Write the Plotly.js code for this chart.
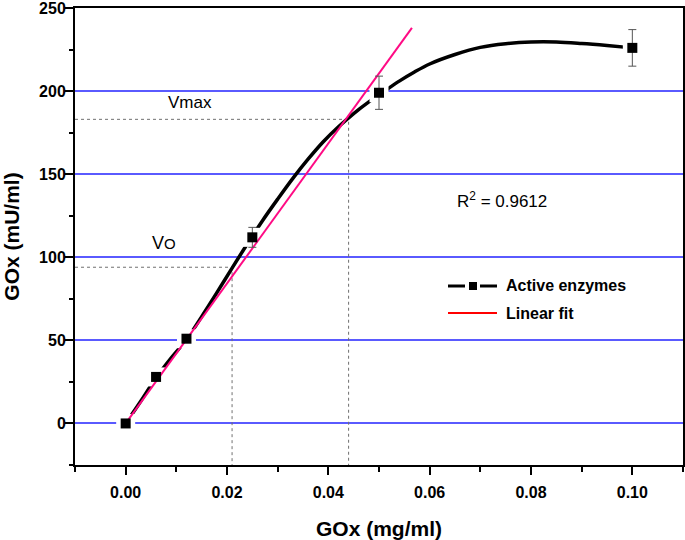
<!DOCTYPE html>
<html><head><meta charset="utf-8">
<script src="https://cdn.plot.ly/plotly-3.0.1.min.js"></script>
<style>html,body{margin:0;padding:0;background:#fff}#chart{width:685px;height:540px}</style>
</head><body><div id="chart"></div>
<script>
// Measured data (GOx activity vs. concentration)
const conc = [0, 0.006, 0.012, 0.025, 0.05, 0.1];
const activity = [0, 28, 51, 112, 199, 226];
const activityErr = [0, 0, 0, 6, 10, 11];

// Fitted curve
const curveX = [0, 0.003, 0.006, 0.009, 0.012, 0.015, 0.018, 0.021, 0.024, 0.027, 0.030, 0.033, 0.036, 0.039, 0.042, 0.045, 0.048, 0.051, 0.054, 0.057, 0.060, 0.065, 0.070, 0.075, 0.080, 0.085, 0.090, 0.095, 0.100];
const curveY = [0, 13.5, 27.5, 39.5, 50.5, 64.3, 78.7, 93.5, 108, 122, 135, 147.5, 159, 169.5, 178.5, 186.5, 193.5, 199.8, 206, 211.5, 216.3, 222, 226.3, 228.5, 229.5, 229.5, 228.6, 227.4, 226];

// Linear fit line
const fitX = [0, 0.0565];
const fitY = [0, 238];

// V0 and Vmax guide points
const guideX = [0.021, 0.044];
const guideY = [94, 183];

// Axis ticks
const yTicks = [0, 50, 100, 150, 200, 250];
const xTicks = [0, 0.02, 0.04, 0.06, 0.08, 0.10];

// Legend entries
const legendNames = ['Active enzymes', 'Linear fit'];

const xRange = [-0.01, 0.11];
const yRange = [-25, 250];

const FONT = 'Arial, "Liberation Sans", sans-serif';
const guideStyle = {color: '#707070', width: 1, dash: '3px,3px'};

const traces = [
  {x: [xRange[0], guideX[0], guideX[0]], y: [guideY[0], guideY[0], yRange[0]], mode: 'lines', line: guideStyle, showlegend: false, hoverinfo: 'skip'},
  {x: [xRange[0], guideX[1], guideX[1]], y: [guideY[1], guideY[1], yRange[0]], mode: 'lines', line: guideStyle, showlegend: false, hoverinfo: 'skip'},
  {x: curveX, y: curveY, mode: 'lines', line: {color: '#000', width: 3.5, shape: 'spline', smoothing: 1}, showlegend: false},
  {x: conc, y: activity, mode: 'markers', marker: {symbol: 'square', size: 19, color: '#fff'}, showlegend: false, hoverinfo: 'skip'},
  {x: fitX, y: fitY, mode: 'lines', line: {color: '#ff0a84', width: 2}, showlegend: false},
  {x: conc, y: activity, mode: 'markers', marker: {symbol: 'square', size: 10, color: '#000'},
   error_y: {type: 'data', array: activityErr, color: '#555', thickness: 1, width: 4}, showlegend: false},
  // carrier for the minor-tick axis
  {x: [null], y: [null], yaxis: 'y2', mode: 'markers', showlegend: false, hoverinfo: 'skip'}
];

// pixel -> paper helpers for the hand-drawn legend
const L = 75, R = 683, T = 8, B = 465;
const px = v => (v - L) / (R - L);
const py = v => (B - v) / (B - T);

const shapes = [
  {type: 'line', xref: 'paper', yref: 'paper', x0: px(448), x1: px(465), y0: py(286), y1: py(286), line: {color: '#000', width: 3}},
  {type: 'line', xref: 'paper', yref: 'paper', x0: px(480), x1: px(497), y0: py(286), y1: py(286), line: {color: '#000', width: 3}},
  {type: 'rect', xref: 'paper', yref: 'paper', x0: px(469), x1: px(477), y0: py(282), y1: py(290), fillcolor: '#000', line: {width: 0}},
  {type: 'line', xref: 'paper', yref: 'paper', x0: px(448), x1: px(497), y0: py(313), y1: py(313), line: {color: '#ff0000', width: 2}}
];

const axisCommon = {
  showline: true, linecolor: '#000', linewidth: 2, mirror: true,
  ticks: 'outside', ticklen: 8, tickwidth: 2, tickcolor: '#000',
  tickfont: {family: FONT, size: 16, color: '#000', weight: 'bold'},
  ticklabeloverflow: 'allow',
  zeroline: false
};

const layout = {
  width: 685, height: 540,
  margin: {l: 75, r: 2, t: 8, b: 75},
  paper_bgcolor: '#fff', plot_bgcolor: '#fff',
  font: {family: FONT, color: '#000'},
  showlegend: false,
  xaxis: Object.assign({}, axisCommon, {
    range: xRange, tickmode: 'array', tickvals: xTicks, tickformat: '.2f', showgrid: false,
    ticklabelstandoff: 4,
    minor: {ticks: 'outside', ticklen: 5, tickwidth: 2, tickcolor: '#000', dtick: 0.01, showgrid: false},
    title: {text: 'GOx (mg/ml)', font: {family: FONT, size: 21, weight: 'bold'}, standoff: 24}
  }),
  yaxis: Object.assign({}, axisCommon, {
    range: yRange, tickmode: 'array', tickvals: yTicks, showgrid: true, gridcolor: '#5a5aff', gridwidth: 2,
    ticklabelstandoff: -4,
    title: {text: 'GOx (mU/ml)', font: {family: FONT, size: 21, weight: 'bold'}, standoff: 34}
  }),
  yaxis2: {
    overlaying: 'y', side: 'left', range: yRange, dtick: 25, tick0: 0,
    ticks: 'outside', ticklen: 5, tickwidth: 2, tickcolor: '#000',
    showticklabels: false, showgrid: false, showline: false, zeroline: false
  },
  shapes: shapes,
  annotations: [
    {x: px(504), y: py(286), xref: 'paper', yref: 'paper', xanchor: 'left', yanchor: 'middle', text: legendNames[0], showarrow: false, font: {family: FONT, size: 16, weight: 'bold'}},
    {x: px(504), y: py(313), xref: 'paper', yref: 'paper', xanchor: 'left', yanchor: 'middle', text: legendNames[1], showarrow: false, font: {family: FONT, size: 16, weight: 'bold'}},
    {x: 0.0127, y: 193, xref: 'x', yref: 'y', text: 'Vmax', showarrow: false, font: {family: FONT, size: 17}},
    {x: 0.0075, y: 108.5, xref: 'x', yref: 'y', text: 'V<span style="font-size:15px">O</span>', showarrow: false, font: {family: FONT, size: 18}},
    {x: 0.0743, y: 134.5, xref: 'x', yref: 'y', text: 'R<sup>2</sup> = 0.9612', showarrow: false, font: {family: FONT, size: 17}}
  ]
};

Plotly.newPlot('chart', traces, layout, {displayModeBar: false, staticPlot: true});
</script></body></html>
